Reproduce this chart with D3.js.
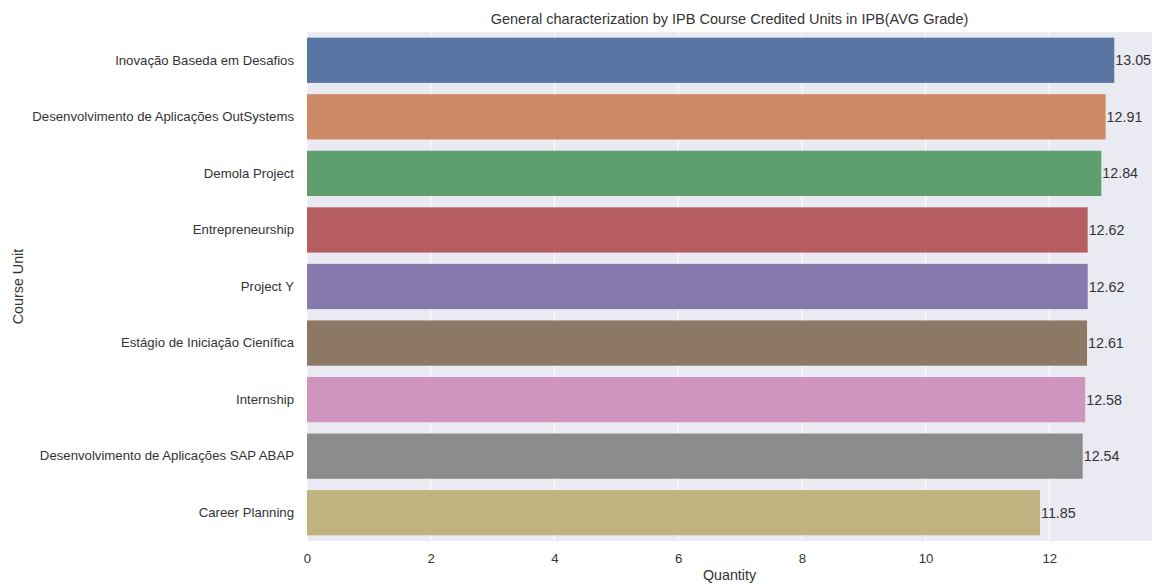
<!DOCTYPE html>
<html><head><meta charset="utf-8">
<script src="https://cdn.jsdelivr.net/npm/d3@7"></script>
<style>body{margin:0;background:#fff;} text{font-family:"Liberation Sans",Arial,sans-serif;}</style>
</head><body>
<svg id="chart" width="1156" height="584"></svg>
<script>
const categories = ["Inovação Baseda em Desafios","Desenvolvimento de Aplicações OutSystems","Demola Project","Entrepreneurship","Project Y","Estágio de Iniciação Cienífica","Internship","Desenvolvimento de Aplicações SAP ABAP","Career Planning"];
const values = [13.05, 12.91, 12.84, 12.62, 12.62, 12.61, 12.58, 12.54, 11.85];
const colors = ["#5875A4","#CC8963","#5F9E6E","#B55D60","#857AAB","#8D7866","#D095BF","#8C8C8C","#C1B37F"];
const xTicks = [0, 2, 4, 6, 8, 10, 12];
const title = "General characterization by IPB Course Credited Units in IPB(AVG Grade)";

const svg = d3.select("#chart");
const L = 307, R = 1152, T = 32, B = 541;
const x = d3.scaleLinear().domain([0, 13.66]).range([L, R]);
const y = d3.scaleBand().domain(categories).range([T, B]).paddingInner(0.2).paddingOuter(0.1);

svg.append("rect").attr("x", L).attr("y", T).attr("width", R - L).attr("height", B - T).attr("fill", "#EAEAF2");

svg.append("g").selectAll("line").data(xTicks).join("line")
  .attr("x1", d => x(d)).attr("x2", d => x(d)).attr("y1", T).attr("y2", B)
  .attr("stroke", "#fff").attr("stroke-width", 1);

svg.append("g").selectAll("rect").data(values).join("rect")
  .attr("x", x(0)).attr("y", (d, i) => y(categories[i]))
  .attr("width", d => x(d) - x(0)).attr("height", y.bandwidth())
  .attr("fill", (d, i) => colors[i]);

svg.append("g").selectAll("text").data(values).join("text")
  .attr("x", d => x(d) + 1).attr("y", (d, i) => y(categories[i]) + y.bandwidth() / 2)
  .attr("dy", "0.35em").attr("font-size", 14.3).attr("fill", "#333")
  .text(d => d.toFixed(2));

const xAxis = d3.axisBottom(x).tickValues(xTicks).tickSize(0).tickPadding(13).tickFormat(d3.format("d"));
const gx = svg.append("g").attr("transform", `translate(0,${B})`).call(xAxis);
gx.select(".domain").remove();
gx.selectAll("text").attr("font-size", 13.2).attr("fill", "#333").style("font-family", '"Liberation Sans",Arial,sans-serif');

const yAxis = d3.axisLeft(y).tickSize(0).tickPadding(13);
const gy = svg.append("g").attr("transform", `translate(${L},0)`).call(yAxis);
gy.select(".domain").remove();
gy.selectAll("text").attr("font-size", 13.2).attr("fill", "#333").style("font-family", '"Liberation Sans",Arial,sans-serif');

svg.append("text").attr("x", (L + R) / 2).attr("y", 24).attr("text-anchor", "middle")
  .attr("font-size", 14.5).attr("fill", "#333").text(title);
svg.append("text").attr("x", (L + R) / 2).attr("y", 580).attr("text-anchor", "middle")
  .attr("font-size", 14.3).attr("fill", "#333").text("Quantity");
svg.append("text").attr("transform", `translate(23,${(T + B) / 2}) rotate(-90)`).attr("text-anchor", "middle")
  .attr("font-size", 14.3).attr("fill", "#333").text("Course Unit");
</script>
</body></html>
